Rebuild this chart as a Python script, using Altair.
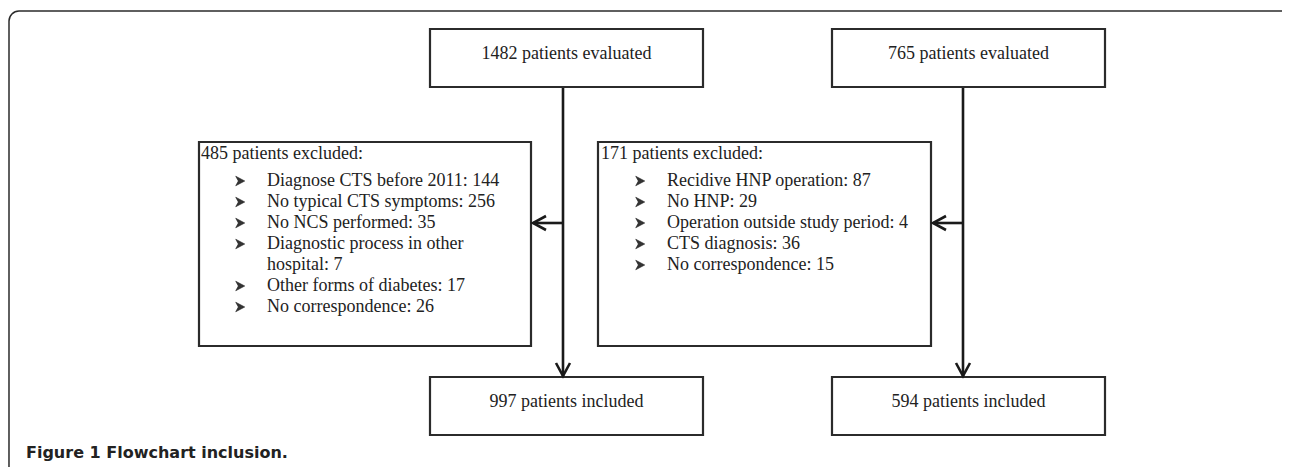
import textwrap
import altair as alt
import pandas as pd

# ---------------- data ----------------
evaluated = [1482, 765]
excluded = [485, 171]
included = [997, 594]

left_reasons = ["Diagnose CTS before 2011", "No typical CTS symptoms", "No NCS performed",
                "Diagnostic process in other hospital", "Other forms of diabetes",
                "No correspondence"]
left_counts = [144, 256, 35, 7, 17, 26]

right_reasons = ["Recidive HNP operation", "No HNP", "Operation outside study period",
                 "CTS diagnosis", "No correspondence"]
right_counts = [87, 29, 4, 36, 15]

caption_text = "Figure 1 Flowchart inclusion."

# ---------------- layout (page pixels) ----------------
W, H = 1274, 459
INK = "#2b2b2b"
col_box = [(430, 703), (832, 1105)]        # evaluated / included boxes
col_line = [563, 963]                       # vertical flow lines
excl_box = [(199, 531), (598, 931)]         # exclusion boxes
top_y, bot_y, excl_y = (29, 87), (377, 435), (142, 346)
arrow_y = 223
bullet_x = [240, 640]
text_x = [267, 667]
header_x = [201, 601]
wrap_w = [29, 40]

boxes = []
for i in range(2):
    boxes.append(dict(x=col_box[i][0], x2=col_box[i][1], y=top_y[0], y2=top_y[1]))
    boxes.append(dict(x=col_box[i][0], x2=col_box[i][1], y=bot_y[0], y2=bot_y[1]))
    boxes.append(dict(x=excl_box[i][0], x2=excl_box[i][1], y=excl_y[0], y2=excl_y[1]))
boxes = pd.DataFrame(boxes)

rules, heads = [], []
for i in range(2):
    lx = col_line[i]
    rules.append(dict(x=lx, x2=lx, y=top_y[1], y2=bot_y[0] - 1))
    tipx = excl_box[i][1] + 2
    rules.append(dict(x=lx, x2=tipx, y=arrow_y, y2=arrow_y))
    # down arrowhead
    for k, (px, py) in enumerate([(lx - 7, bot_y[0] - 14), (lx, bot_y[0] - 1), (lx + 7, bot_y[0] - 14)]):
        heads.append(dict(id=f"d{i}", o=k, x=px, y=py))
    # left arrowhead
    for k, (px, py) in enumerate([(tipx + 13, arrow_y - 7), (tipx, arrow_y), (tipx + 13, arrow_y + 7)]):
        heads.append(dict(id=f"l{i}", o=k, x=px, y=py))
rules = pd.DataFrame(rules)
heads = pd.DataFrame(heads)

centre = []
for i in range(2):
    cx = (col_box[i][0] + col_box[i][1]) / 2
    centre.append(dict(x=cx, y=top_y[0] + 25, t=f"{evaluated[i]} patients evaluated"))
    centre.append(dict(x=cx, y=bot_y[0] + 25, t=f"{included[i]} patients included"))
centre = pd.DataFrame(centre)

left_rows, bullets = [], []
for i, (reasons, counts) in enumerate([(left_reasons, left_counts), (right_reasons, right_counts)]):
    left_rows.append(dict(x=header_x[i], y=154, t=f"{excluded[i]} patients excluded:"))
    line = 0
    for r, c in zip(reasons, counts):
        parts = textwrap.wrap(f"{r}: {c}", wrap_w[i])
        for j, p in enumerate(parts):
            yy = 181 + 21 * line
            left_rows.append(dict(x=text_x[i], y=yy, t=p))
            if j == 0:
                bullets.append(dict(x=bullet_x[i], y=yy))
            line += 1
left_rows = pd.DataFrame(left_rows)
bullets = pd.DataFrame(bullets)

frame = pd.DataFrame([dict(x=9, x2=1300, y=11, y2=520)])
caption = pd.DataFrame([dict(x=26, y=453, t=caption_text)])

# ---------------- chart ----------------
X = alt.Scale(domain=[8, 8 + W], nice=False, zero=False)
Y = alt.Scale(domain=[8, 8 + H], nice=False, zero=False, reverse=True)


def xe(f="x"):
    return alt.X(f"{f}:Q", scale=X, axis=None)


def ye(f="y"):
    return alt.Y(f"{f}:Q", scale=Y, axis=None)


frame_l = alt.Chart(frame).mark_rect(fill=None, stroke=INK, strokeWidth=1.5, cornerRadius=10).encode(
    x=xe(), x2="x2:Q", y=ye(), y2="y2:Q")

box_l = alt.Chart(boxes).mark_rect(fill="white", stroke=INK, strokeWidth=2.2).encode(
    x=xe(), x2="x2:Q", y=ye(), y2="y2:Q")

rule_l = alt.Chart(rules).mark_rule(color="#1a1a1a", strokeWidth=2.6).encode(
    x=xe(), x2="x2:Q", y=ye(), y2="y2:Q")

head_l = alt.Chart(heads).mark_line(color="#1a1a1a", strokeWidth=2.6, strokeJoin="miter").encode(
    x=xe(), y=ye(), detail="id:N", order="o:Q")

centre_l = alt.Chart(centre).mark_text(font="Liberation Serif", fontSize=18, color="#222",
                                       align="center", baseline="middle").encode(
    x=xe(), y=ye(), text="t:N")

left_l = alt.Chart(left_rows).mark_text(font="Liberation Serif", fontSize=18, color="#222",
                                        align="left", baseline="middle").encode(
    x=xe(), y=ye(), text="t:N")

arrow_bullet = "M -0.9 -1 L 1 0 L -0.9 1 L -0.35 0 Z"
bullet_l = alt.Chart(bullets).mark_point(shape=arrow_bullet, filled=True, size=90, color="#333",
                                         opacity=1, stroke="#222", strokeWidth=0.6).encode(
    x=xe(), y=ye())

cap_l = alt.Chart(caption).mark_text(font="DejaVu Sans", fontSize=16, fontWeight="bold", color="#222",
                                     align="left", baseline="middle").encode(
    x=xe(), y=ye(), text="t:N")

chart = alt.layer(frame_l, rule_l, box_l, head_l, centre_l, left_l, bullet_l, cap_l).properties(
    width=W, height=H, autosize=alt.AutoSizeParams(type="none"), padding=0,
    background="white").configure_view(stroke=None)

chart.save("out.html", embed_options={"renderer": "svg", "actions": False})
